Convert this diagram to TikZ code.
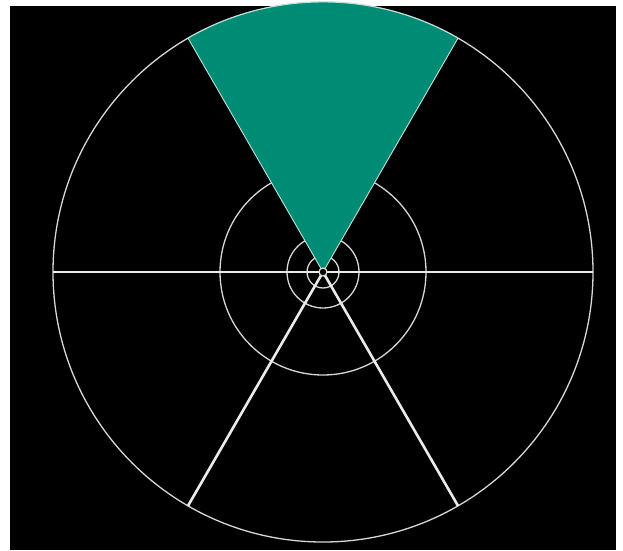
\documentclass[tikz,border=0pt]{standalone}
\usetikzlibrary{calc}
\definecolor{sectorgreen}{RGB}{0,140,116}
\definecolor{ringgray}{RGB}{215,215,215}

\begin{document}
\begin{tikzpicture}[
        x=1pt, y=1pt,
        ring/.style={draw=ringgray, line width=1.3pt},
        spoke/.style={draw=white!92!black, line width=2.6pt},
        sector/.style={fill=sectorgreen, draw=white!75!sectorgreen, line width=0.9pt}
    ]
    \useasboundingbox (0,0) rectangle (623,550);
    \fill[black] (10,0) rectangle (616,544);

    \coordinate (c) at (323,278);
    \coordinate (west) at ($(c)+(180:270)$);
    \coordinate (east) at ($(c)+(0:270)$);
    \coordinate (sw) at ($(c)+(240:270)$);
    \coordinate (se) at ($(c)+(300:270)$);

    % rings
    \draw[ring] (c) circle (270);
    \draw[ring] (c) circle (103);
    \draw[ring] (c) circle (36);
    \draw[ring] (c) circle (16);

    % spokes
    \draw[spoke] (west) -- (east);
    \draw[spoke] (c) -- (sw);
    \draw[spoke] (c) -- (se);

    % highlighted sector
    \draw[sector] (c) -- ++(60:270) arc[start angle=60, end angle=120, radius=270] -- cycle;
    \draw[ring, fill=black] (c) circle (4);
\end{tikzpicture}
\end{document}
